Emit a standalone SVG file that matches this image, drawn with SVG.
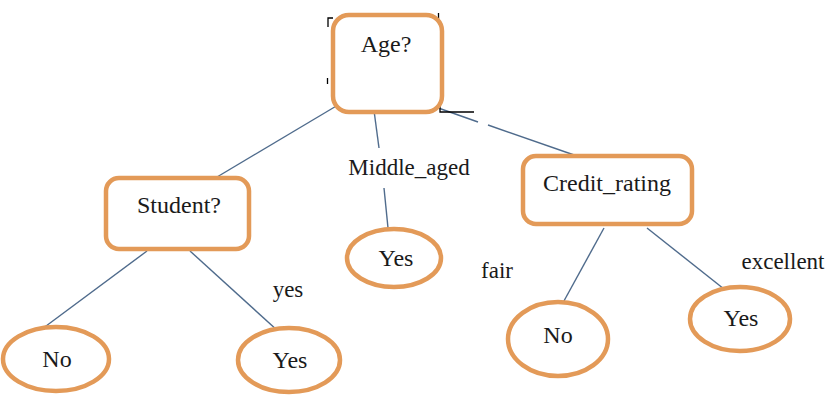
<svg xmlns="http://www.w3.org/2000/svg" width="835" height="400" viewBox="0 0 835 400">
<style>
.box{fill:#fff;stroke:#E39A58;stroke-width:4.5}
.leaf{fill:#fff;stroke:#E39A58;stroke-width:4.5}
.t{font-family:"Liberation Serif","Times New Roman",serif;font-size:24px;fill:#1a1a1a;text-anchor:middle}
.lbl{font-family:"Liberation Serif","Times New Roman",serif;font-size:23px;fill:#1a1a1a;text-anchor:middle}
.c{stroke:#4F6B8C;stroke-width:1.4;fill:none}
.a{stroke:#000;stroke-width:1.3;fill:none}
</style>
<rect width="835" height="400" fill="#fff"/>
<g id="connectors">
<line class="c" x1="338" y1="105" x2="212" y2="180"/>
<line class="c" x1="373" y1="103" x2="379" y2="148"/>
<line class="c" x1="384" y1="188" x2="388" y2="228"/>
<line class="c" x1="427" y1="104" x2="478" y2="122"/>
<line class="c" x1="488" y1="125" x2="577" y2="156"/>
<line class="c" x1="147" y1="251" x2="42" y2="329"/>
<line class="c" x1="190" y1="251" x2="278" y2="331"/>
<line class="c" x1="604" y1="228" x2="559" y2="310"/>
<line class="c" x1="647" y1="228" x2="724" y2="289"/>
</g>
<g id="artifacts">
<path class="a" d="M333 18 H328 V27"/>
<path class="a" d="M327.5 78 V84"/>
<path class="a" d="M438.5 13 V23"/>
<path class="a" d="M440 106 V112 H474"/>
</g>
<g id="age">
<rect class="box" x="333" y="15" width="109" height="97" rx="16"/>
<text class="t" x="386" y="52">Age?</text>
</g>
<g id="student">
<rect class="box" x="106" y="178" width="143" height="71" rx="13"/>
<text class="t" x="179" y="213">Student?</text>
</g>
<g id="credit">
<rect class="box" x="523" y="156" width="169" height="68" rx="13"/>
<text class="t" x="607" y="191">Credit_rating</text>
</g>
<g id="yes_middle">
<ellipse class="leaf" cx="394" cy="258" rx="47" ry="29"/>
<text class="t" x="396" y="266">Yes</text>
</g>
<g id="no_left">
<ellipse class="leaf" cx="56" cy="359" rx="53" ry="32"/>
<text class="t" x="57" y="367">No</text>
</g>
<g id="yes_student">
<ellipse class="leaf" cx="289" cy="360" rx="51" ry="32"/>
<text class="t" x="290" y="368">Yes</text>
</g>
<g id="no_right">
<ellipse class="leaf" cx="558" cy="339" rx="50" ry="37"/>
<text class="t" x="558" y="343">No</text>
</g>
<g id="yes_right">
<ellipse class="leaf" cx="740" cy="319" rx="50" ry="32"/>
<text class="t" x="741" y="326">Yes</text>
</g>
<g id="labels">
<text class="lbl" x="409" y="175">Middle_aged</text>
<text class="lbl" x="288" y="297">yes</text>
<text class="lbl" x="497" y="278">fair</text>
<text class="lbl" x="783" y="269">excellent</text>
</g>
</svg>
